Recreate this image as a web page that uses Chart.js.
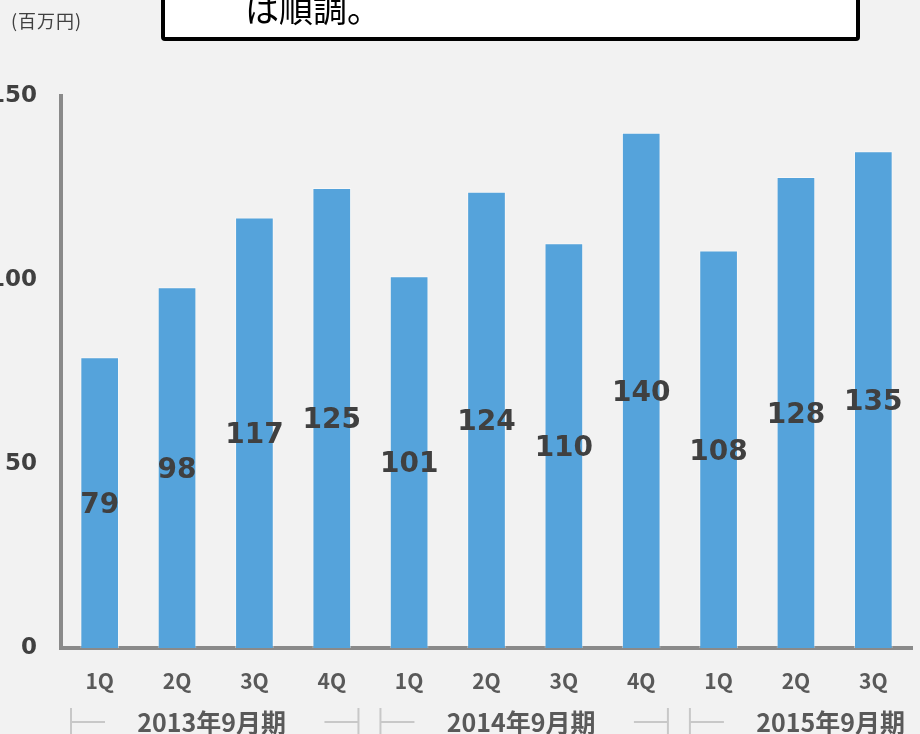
<!DOCTYPE html>
<html lang="ja">
<head>
<meta charset="utf-8">
<script src="https://cdn.jsdelivr.net/npm/chart.js@4/dist/chart.umd.min.js"></script>
<style>
  html, body { margin: 0; padding: 0; background: #f2f2f2; }
  #wrap { position: relative; width: 920px; height: 734px; overflow: hidden; background: #f2f2f2; }
  #chartBox { position: absolute; left: 0; top: 0; width: 920px; height: 734px; }
  #unit { position: absolute; left: 11px; top: 7px; font: 18px "Noto Sans CJK JP", sans-serif; letter-spacing: 1px; color: #404040; }
  #note { position: absolute; left: 161px; top: -60px; width: 691px; height: 93px; background: #fff;
          border: 4px solid #000; border-radius: 4px; }
  #noteText { position: absolute; left: 80px; top: 47px; font: 34px/34px "Noto Sans CJK JP", sans-serif; color: #000; white-space: nowrap; }
</style>
</head>
<body>
<div id="wrap">
  <div id="chartBox"><canvas id="salesChart"></canvas></div>
  <div id="unit">(百万円)</div>
  <div id="note"><div id="noteText">は順調。</div></div>
</div>
<script>
// quarterly sales (百万円)
const quarters = ['1Q', '2Q', '3Q', '4Q', '1Q', '2Q', '3Q', '4Q', '1Q', '2Q', '3Q'];
const sales = [79, 98, 117, 125, 101, 124, 110, 140, 108, 128, 135];
const fiscalYears = ['2013年9月期', '2014年9月期', '2015年9月期'];
const quartersPerYear = 4;
const yTicks = [0, 50, 100, 150];

const barColor = '#55a3db';
const axisColor = '#8a8a8a';

// number drawn in the middle of each bar
const valueLabels = {
    id: 'valueLabels',
    afterDatasetsDraw(chart) {
        const ctx = chart.ctx;
        const meta = chart.getDatasetMeta(0);
        ctx.save();
        ctx.font = 'bold 28px "DejaVu Sans", sans-serif';
        ctx.fillStyle = '#404040';
        ctx.textAlign = 'center';
        ctx.textBaseline = 'middle';
        meta.data.forEach((bar, i) => {
            const p = bar.getProps(['x', 'y', 'base'], true);
            ctx.fillText(String(sales[i]), p.x, (p.y + p.base) / 2 + 3);
        });
        ctx.restore();
    }
};

// second row of the x axis: fiscal year with bracket lines
const yearGroups = {
    id: 'yearGroups',
    afterDraw(chart) {
        const ctx = chart.ctx;
        const xs = chart.scales.x;
        const step = xs.getPixelForValue(1) - xs.getPixelForValue(0);
        const y = 722;
        ctx.save();
        ctx.font = 'bold 25px "Noto Sans CJK JP", sans-serif';
        ctx.textAlign = 'center';
        ctx.textBaseline = 'middle';
        fiscalYears.forEach((label, g) => {
            const x0 = xs.getPixelForValue(g * quartersPerYear) - step / 2 + 10;
            const x1 = x0 + quartersPerYear * step - 22;
            const cx = (x0 + x1) / 2 - 3;
            ctx.strokeStyle = '#c8c8c8';
            ctx.lineWidth = 2;
            ctx.beginPath();
            ctx.moveTo(x0, y - 14); ctx.lineTo(x0, y + 14);
            ctx.moveTo(x0, y); ctx.lineTo(x0 + 34, y);
            ctx.moveTo(x1, y - 14); ctx.lineTo(x1, y + 14);
            ctx.moveTo(x1, y); ctx.lineTo(x1 - 34, y);
            ctx.stroke();
            ctx.fillStyle = '#595959';
            ctx.fillText(label, cx, y);
        });
        ctx.restore();
    }
};

const ctx = document.getElementById('salesChart').getContext('2d');
new Chart(ctx, {
    type: 'bar',
    data: {
        labels: quarters,
        datasets: [{
            data: sales,
            backgroundColor: barColor,
            borderColor: 'rgba(255,255,255,0.45)',
            borderWidth: 1,
            barPercentage: 0.5,
            categoryPercentage: 1.0
        }]
    },
    options: {
        responsive: true,
        maintainAspectRatio: false,
        animation: false,
        layout: { padding: { top: 96, right: 8, left: 0, bottom: 0 } },
        scales: {
            x: {
                grid: { display: false, drawTicks: false },
                border: { color: axisColor, width: 4 },
                ticks: { color: '#595959', padding: 20, font: { family: '"Noto Sans CJK JP", sans-serif', size: 21, weight: 'bold' } },
                afterFit: s => { s.height = 86; }
            },
            y: {
                min: 0,
                max: 150,
                afterBuildTicks: s => { s.ticks = yTicks.map(v => ({ value: v })); },
                grid: { display: false, drawTicks: false },
                border: { color: axisColor, width: 4 },
                ticks: { color: '#404040', padding: 24, font: { family: '"DejaVu Sans", sans-serif', size: 23, weight: 'bold' } },
                afterFit: s => { s.width = 61; }
            }
        },
        plugins: {
            legend: { display: false },
            tooltip: { enabled: false }
        }
    },
    plugins: [valueLabels, yearGroups]
});
</script>
</body>
</html>
